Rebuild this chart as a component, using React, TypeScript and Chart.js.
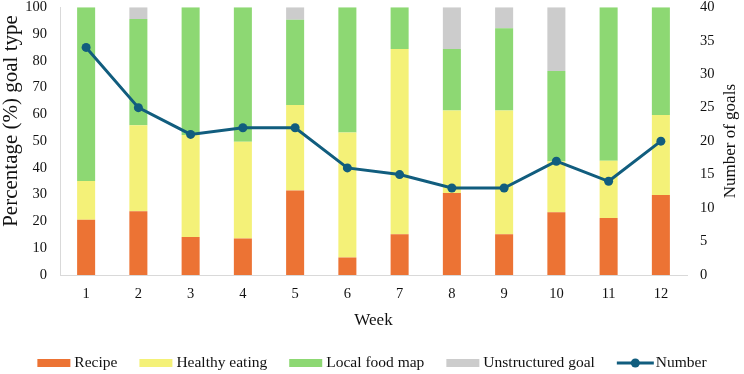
import React, { useEffect, useRef } from "react";
import { Chart, registerables } from "chart.js";

Chart.register(...registerables);

const weeks = ["1", "2", "3", "4", "5", "6", "7", "8", "9", "10", "11", "12"];
const recipe = [20.6, 23.8, 14.2, 13.6, 31.6, 6.5, 15.2, 30.6, 15.2, 23.4, 21.3, 29.9];
const healthyEating = [14.5, 32.1, 38.1, 36.2, 31.9, 46.7, 69.2, 30.8, 46.2, 19.1, 21.4, 29.9];
const localFoodMap = [64.9, 39.7, 47.7, 50.2, 31.8, 46.8, 15.6, 23.0, 30.8, 33.7, 57.3, 40.2];
const unstructuredGoal = [0, 4.4, 0, 0, 4.7, 0, 0, 15.6, 7.8, 23.8, 0, 0];
const numberOfGoals = [34, 25, 21, 22, 22, 16, 15, 13, 13, 17, 14, 20];

const leftTicks = { min: 0, max: 100, step: 10 };
const rightTicks = { min: 0, max: 40, step: 5 };

const leftTitle = "Percentage (%) goal type";
const rightTitle = "Number of goals";
const xTitle = "Week";

const COLORS = {
  recipe: "#EC7334",
  healthy: "#F4F178",
  local: "#8DD873",
  unstructured: "#CCCCCC",
  line: "#115D7E",
};

const FONT = "'Liberation Serif', 'Times New Roman', serif";

const legendPlugin = {
  id: "customLegend",
  afterDraw(chart: any) {
    const ctx = chart.ctx;
    const items = [
      { text: "Recipe", color: COLORS.recipe, kind: "box" },
      { text: "Healthy eating", color: COLORS.healthy, kind: "box" },
      { text: "Local food map", color: COLORS.local, kind: "box" },
      { text: "Unstructured goal", color: COLORS.unstructured, kind: "box" },
      { text: "Number", color: COLORS.line, kind: "line" },
    ];
    ctx.save();
    ctx.font = `15.5px ${FONT}`;
    const boxW = 33;
    const lineW = 37;
    const gapText = 4;
    const gapItem = 22;
    let total = 0;
    const widths = items.map((it) => {
      const mw = it.kind === "box" ? boxW : lineW;
      const tw = ctx.measureText(it.text).width;
      return { mw, tw, w: mw + (it.kind === "box" ? gapText : 2) + tw };
    });
    widths.forEach((w, i) => {
      total += w.w + (i < widths.length - 1 ? gapItem : 0);
    });
    let x = chart.width / 2 - total / 2;
    const cy = 363;
    items.forEach((it, i) => {
      const w = widths[i];
      if (it.kind === "box") {
        ctx.fillStyle = it.color;
        ctx.fillRect(x, cy - 4, boxW, 8);
      } else {
        ctx.strokeStyle = it.color;
        ctx.lineWidth = 3;
        ctx.beginPath();
        ctx.moveTo(x, cy);
        ctx.lineTo(x + lineW, cy);
        ctx.stroke();
        ctx.fillStyle = it.color;
        ctx.beginPath();
        ctx.arc(x + lineW / 2, cy, 4.5, 0, Math.PI * 2);
        ctx.fill();
      }
      ctx.fillStyle = "#111";
      ctx.textBaseline = "middle";
      ctx.textAlign = "left";
      ctx.fillText(it.text, x + w.mw + (it.kind === "box" ? gapText : 2), cy);
      x += w.w + gapItem;
    });
    ctx.restore();
  },
};

const axisTitlesPlugin = {
  id: "axisTitles",
  afterDraw(chart: any) {
    const ctx = chart.ctx;
    const area = chart.chartArea;
    ctx.save();
    ctx.fillStyle = "#111";
    ctx.textAlign = "center";
    ctx.textBaseline = "middle";
    // left
    ctx.save();
    ctx.font = `21px ${FONT}`;
    ctx.translate(11, 121);
    ctx.rotate(-Math.PI / 2);
    ctx.fillText(leftTitle, 0, 0);
    ctx.restore();
    // right
    ctx.save();
    ctx.font = `17px ${FONT}`;
    ctx.translate(731, (area.top + area.bottom) / 2);
    ctx.rotate(-Math.PI / 2);
    ctx.fillText(rightTitle, 0, 0);
    ctx.restore();
    ctx.restore();
  },
};

export default function App() {
  const ref = useRef<HTMLCanvasElement | null>(null);

  useEffect(() => {
    document.body.style.margin = "0";
    if (!ref.current) return;
    const barCommon = {
      type: "bar" as const,
      yAxisID: "y",
      order: 1,
      barPercentage: 0.345,
      categoryPercentage: 1,
      borderWidth: 0,
    };
    const chart = new Chart(ref.current, {
      type: "bar",
      data: {
        labels: weeks,
        datasets: [
          { ...barCommon, label: "Recipe", data: recipe, backgroundColor: COLORS.recipe },
          { ...barCommon, label: "Healthy eating", data: healthyEating, backgroundColor: COLORS.healthy },
          { ...barCommon, label: "Local food map", data: localFoodMap, backgroundColor: COLORS.local },
          { ...barCommon, label: "Unstructured goal", data: unstructuredGoal, backgroundColor: COLORS.unstructured },
          {
            type: "line" as const,
            label: "Number",
            data: numberOfGoals,
            yAxisID: "y1",
            order: 0,
            borderColor: COLORS.line,
            backgroundColor: COLORS.line,
            borderWidth: 3,
            pointRadius: 4.5,
            pointBackgroundColor: COLORS.line,
            pointBorderWidth: 0,
            tension: 0,
          } as any,
        ],
      },
      options: {
        responsive: false,
        maintainAspectRatio: false,
        animation: false,
        layout: { padding: { top: 0, right: 0, left: 0, bottom: 39 } },
        plugins: {
          legend: { display: false },
          tooltip: { enabled: false },
        },
        scales: {
          x: {
            stacked: true,
            grid: { display: false, drawTicks: true, tickLength: 12 },
            border: { display: true, color: "#D9D9D9", width: 1 },
            ticks: {
              color: "#111",
              padding: 0,
              font: { family: FONT, size: 14.5, lineHeight: 1 },
            },
            title: {
              display: true,
              text: xTitle,
              color: "#111",
              font: { family: FONT, size: 17, lineHeight: 1.2 },
              padding: { top: 0, bottom: 4 },
            },
            afterFit(scale: any) {
              scale.height = 60;
            },
          },
          y: {
            stacked: true,
            position: "left",
            min: leftTicks.min,
            max: leftTicks.max,
            grid: { display: false, drawTicks: true, tickLength: 13 },
            border: { display: true, color: "#D9D9D9", width: 1 },
            ticks: {
              stepSize: leftTicks.step,
              color: "#111",
              padding: 0,
              font: { family: FONT, size: 14.5, lineHeight: 1 },
            },
            afterFit(scale: any) {
              scale.width = 60;
            },
          },
          y1: {
            stacked: false,
            position: "right",
            min: rightTicks.min,
            max: rightTicks.max,
            grid: { display: false, drawOnChartArea: false, drawTicks: true, tickLength: 13 },
            border: { display: false },
            ticks: {
              stepSize: rightTicks.step,
              color: "#111",
              padding: 0,
              font: { family: FONT, size: 14.5, lineHeight: 1 },
            },
            afterFit(scale: any) {
              scale.width = 57;
            },
          },
        },
      } as any,
      plugins: [legendPlugin, axisTitlesPlugin],
    });
    return () => chart.destroy();
  }, []);

  return (
    <div style={{ width: 744, height: 374 }}>
      <canvas ref={ref} width={744} height={374} style={{ display: "block" }} />
    </div>
  );
}
